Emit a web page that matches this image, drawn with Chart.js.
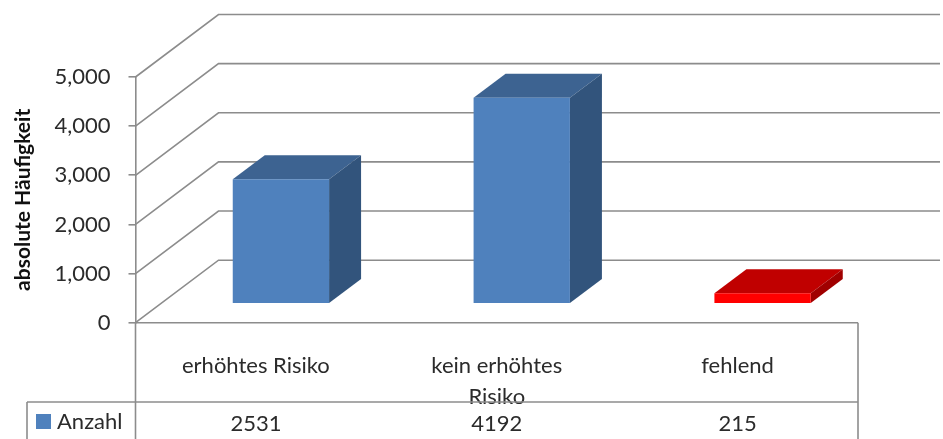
<!DOCTYPE html>
<html lang="de">
<head>
  <meta charset="UTF-8">
  <title>absolute Häufigkeit</title>
  <style>
    html, body { margin: 0; padding: 0; background: #fff; overflow: hidden; }
    canvas { display: block; }
  </style>
  <script src="https://cdn.jsdelivr.net/npm/chart.js"></script>
</head>
<body>
  <canvas id="chart" width="943" height="439"></canvas>
  <script>
    // Data
    const categories = ['erhöhtes Risiko', ['kein erhöhtes', 'Risiko'], 'fehlend'];
    const counts = [2531, 4192, 215];
    const seriesName = 'Anzahl';
    const yAxisTitle = 'absolute Häufigkeit';

    const frontColors = ['#4f81bd', '#4f81bd', '#ff0000'];
    const topColors = ['#3d6391', '#3d6391', '#c00000'];
    const sideColors = ['#32547c', '#32547c', '#a00000'];

    const gridColor = '#8c8c8c';
    const textColor = '#2b2b2b';
    const fontName = 'Lato, Carlito, sans-serif';

    // 3D look: how far the back wall and the bars are pushed
    const wallDx = 83, wallDy = -62.5;
    const barShiftX = 25, barShiftY = -19;
    const barDepthX = 32, barDepthY = -24;

    function line(ctx, x1, y1, x2, y2) {
      ctx.beginPath();
      ctx.moveTo(x1, y1);
      ctx.lineTo(x2, y2);
      ctx.stroke();
    }

    function face(ctx, color, pts) {
      ctx.fillStyle = color;
      ctx.beginPath();
      pts.forEach((p, i) => i ? ctx.lineTo(p[0], p[1]) : ctx.moveTo(p[0], p[1]));
      ctx.closePath();
      ctx.fill();
    }

    const fake3d = {
      id: 'fake3d',
      beforeDatasetsDraw(chart) {
        const ctx = chart.ctx;
        const yScale = chart.scales.y;
        const area = chart.chartArea;

        // Gridlines: diagonal on the side wall, then along the back wall
        ctx.save();
        ctx.strokeStyle = gridColor;
        ctx.lineWidth = 1.6;
        yScale.ticks.forEach(t => {
          const y = yScale.getPixelForValue(t.value);
          ctx.beginPath();
          ctx.moveTo(area.left, y);
          ctx.lineTo(area.left + wallDx, y + wallDy);
          ctx.lineTo(940, y + wallDy);
          ctx.stroke();
        });
        ctx.restore();

        // Top and side faces come from the bar elements themselves
        ctx.save();
        ctx.translate(barShiftX, barShiftY);
        chart.getDatasetMeta(0).data.forEach((bar, i) => {
          const left = bar.x - bar.width / 2;
          const right = bar.x + bar.width / 2;
          face(ctx, topColors[i], [
            [left, bar.y], [right, bar.y],
            [right + barDepthX, bar.y + barDepthY], [left + barDepthX, bar.y + barDepthY]
          ]);
          face(ctx, sideColors[i], [
            [right, bar.y], [right + barDepthX, bar.y + barDepthY],
            [right + barDepthX, bar.base + barDepthY], [right, bar.base]
          ]);
        });
        ctx.restore();

        ctx.save();
        ctx.translate(barShiftX, barShiftY);
      },
      afterDatasetsDraw(chart) {
        chart.ctx.restore();
      },
      afterDraw(chart) {
        const ctx = chart.ctx;
        const area = chart.chartArea;
        const xScale = chart.scales.x;
        const rowTop = 402;
        const bottom = 439;

        // Data table frame
        ctx.save();
        ctx.strokeStyle = gridColor;
        ctx.lineWidth = 1.6;
        line(ctx, area.left, area.bottom, area.right, area.bottom);
        line(ctx, area.left, area.bottom, area.left, bottom);
        line(ctx, area.right, area.bottom, area.right, bottom);
        line(ctx, 27, rowTop, area.right, rowTop);
        line(ctx, 27, rowTop, 27, bottom);

        // Legend key and row
        ctx.fillStyle = frontColors[0];
        ctx.fillRect(36, 414, 15, 15);
        ctx.fillStyle = textColor;
        ctx.font = '22px ' + fontName;
        ctx.textBaseline = 'middle';
        ctx.textAlign = 'left';
        ctx.fillText(seriesName, 57, 422);
        ctx.textAlign = 'center';
        counts.forEach((v, i) => {
          ctx.fillText(String(v), xScale.getPixelForValue(i), 424);
        });
        ctx.restore();
      }
    };

    new Chart(document.getElementById('chart'), {
      type: 'bar',
      data: {
        labels: categories,
        datasets: [{
          label: seriesName,
          data: counts,
          backgroundColor: frontColors,
          borderWidth: 0,
          barPercentage: 0.4,
          categoryPercentage: 1
        }]
      },
      options: {
        responsive: false,
        animation: false,
        layout: { padding: { top: 77, right: 85, left: 0, bottom: 0 } },
        plugins: { legend: { display: false }, tooltip: { enabled: false } },
        scales: {
          x: {
            grid: { display: false },
            border: { display: false },
            ticks: {
              color: textColor,
              font: { family: fontName, size: 22, lineHeight: 1.4 },
              padding: 20,
              maxRotation: 0,
              autoSkip: false
            },
            afterFit(scale) { scale.height = 116.3; }
          },
          y: {
            min: 0,
            max: 5000,
            grid: { drawOnChartArea: false, color: gridColor, lineWidth: 1.6, tickLength: 7 },
            border: { color: gridColor, width: 1.6 },
            ticks: {
              stepSize: 1000,
              color: textColor,
              padding: 18,
              font: { family: fontName, size: 22 }
            },
            title: {
              display: true,
              text: yAxisTitle,
              color: '#111',
              font: { family: fontName, size: 21, weight: 'bold' },
              padding: { top: 11, bottom: 0 }
            },
            afterFit(scale) { scale.width = 135.5; }
          }
        }
      },
      plugins: [fake3d]
    });
  </script>
</body>
</html>
